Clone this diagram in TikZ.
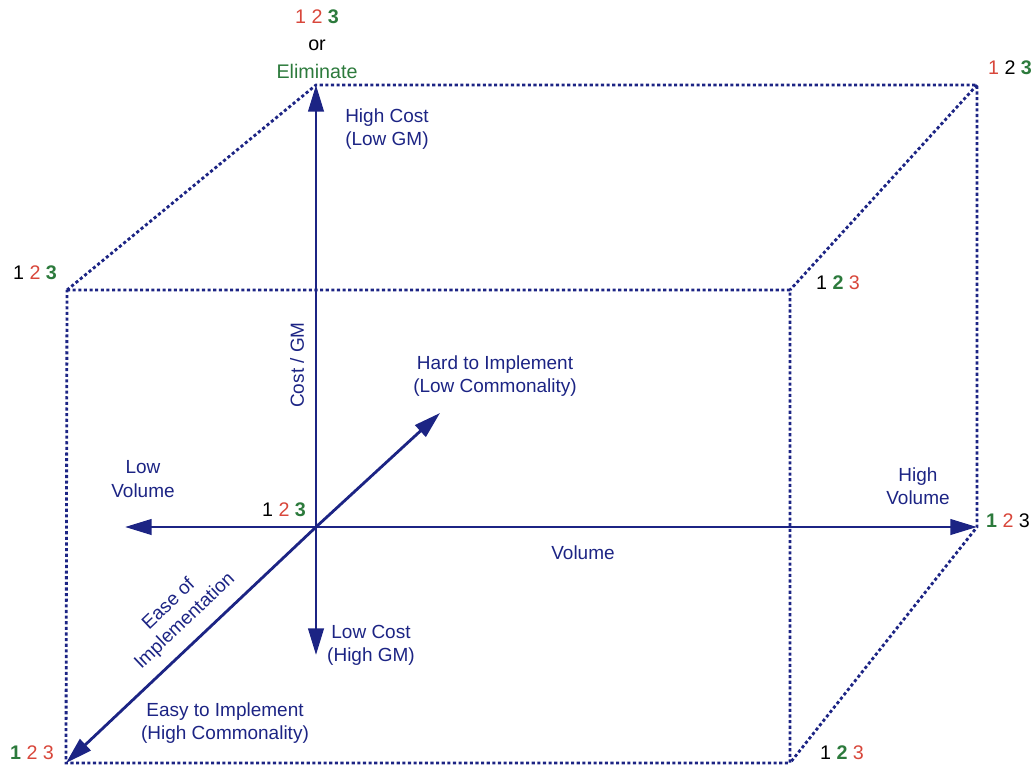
\documentclass[tikz,border=0pt]{standalone}
\usepackage{fontspec}
\setmainfont{Liberation Sans}
\usetikzlibrary{arrows.meta}

\definecolor{navy}{HTML}{1C2484}
\definecolor{numred}{HTML}{D8473B}
\definecolor{numgreen}{HTML}{2C7A3C}

\newcommand{\redno}[1]{\textcolor{numred}{#1}}
\newcommand{\greenno}[1]{\textcolor{numgreen}{\bfseries #1}}

\begin{document}
\begin{tikzpicture}[x=0.025cm, y=-0.025cm,
    axis/.style={navy, line width=2pt, -{Triangle[length=19pt,width=11pt]}},
    boxline/.style={navy, line width=2pt, dash pattern=on 2.2pt off 1.8pt},
    lbl/.style={text=navy, font=\fontsize{13.5}{16.5}\selectfont, align=center, inner sep=0pt},
    nums/.style={font=\fontsize{14}{16}\selectfont, inner sep=0pt}]

  \useasboundingbox (0,0) rectangle (1036,767);

  % corners of the box
  \coordinate (o)   at (316,527);
  \coordinate (ftl) at (67,290);
  \coordinate (ftr) at (790,290);
  \coordinate (fbl) at (66,763);
  \coordinate (fbr) at (790,763);
  \coordinate (btl) at (316,85);
  \coordinate (btr) at (977,85);
  \coordinate (bbr) at (977,527);

  % free ends of the axes
  \coordinate (down) at (316,655);
  \coordinate (left) at (125,527);
  \coordinate (back) at (440,413);

  % dotted box
  \draw[boxline] (ftl) -- (ftr) -- (fbr) -- (fbl) -- cycle;
  \draw[boxline] (ftl) -- (btl) -- (btr) -- (bbr) -- (fbr);
  \draw[boxline] (btr) -- (ftr);

  % axes
  \draw[axis] (o) -- (btl);
  \draw[axis] (o) -- (down);
  \draw[axis] (o) -- (left);
  \draw[axis] (o) -- (bbr);
  \draw[axis] (o) -- (back);
  \draw[axis] (o) -- (fbl);

  % axis labels
  \begin{scope}[every node/.style={lbl}]
    \node[anchor=west, align=left] (hicost) at (345,129) {High Cost\\(Low GM)};
    \node[rotate=90] (costgm) at (297,365) {Cost / GM};
    \node (hard) at (495,376) {Hard to Implement\\(Low Commonality)};
    \node (lovol) at (143,479) {Low\\Volume};
    \node (hivol) at (918,486) {High\\Volume};
    \node (vol) at (583,553) {Volume};
    \node (locost) at (371,645) {Low Cost\\(High GM)};
    \node[rotate=43.5] (ease) at (177,613) {Ease of\\Implementation};
    \node (easy) at (225,723) {Easy to Implement\\(High Commonality)};
  \end{scope}

  % rankings at the corners
  \begin{scope}[every node/.style={nums}]
    \node (n0) at (317,17) {\redno{1} \redno{2} \greenno{3}};
    \node (or) at (317,45) {or};
    \node[text=numgreen] (elim) at (317,71) {Eliminate};
    \node (n1) at (1010,68) {\redno{1} 2 \greenno{3}};
    \node (n2) at (35,273) {1 \redno{2} \greenno{3}};
    \node (n3) at (838,283) {1 \greenno{2} \redno{3}};
    \node (n4) at (284,510) {1 \redno{2} \greenno{3}};
    \node (n5) at (1008,521) {\greenno{1} \redno{2} 3};
    \node (n6) at (32,753) {\greenno{1} \redno{2} \redno{3}};
    \node (n7) at (842,753) {1 \greenno{2} \redno{3}};
  \end{scope}

\end{tikzpicture}
\end{document}
